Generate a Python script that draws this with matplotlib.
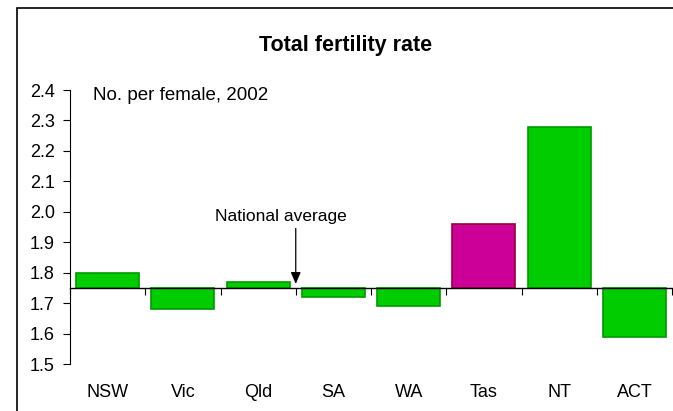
import matplotlib
matplotlib.use("Agg")
import matplotlib.pyplot as plt
from matplotlib.patches import Rectangle
from matplotlib.transforms import blended_transform_factory

plt.rcParams['font.family'] = ['Liberation Sans', 'DejaVu Sans']

categories = ["NSW", "Vic", "Qld", "SA", "WA", "Tas", "NT", "ACT"]
values = [1.80, 1.68, 1.77, 1.72, 1.69, 1.96, 2.28, 1.59]
national_average = 1.75
highlight = "Tas"
yticks = [1.5, 1.6, 1.7, 1.8, 1.9, 2.0, 2.1, 2.2, 2.3, 2.4]

W, H = 673, 411
fig = plt.figure(figsize=(W / 100, H / 100), dpi=100)

# outer frame (cut off on right and bottom like the reference)
fig.patches.append(Rectangle((17 / W, -0.05), 1.2, 1 - 8 / H + 0.05,
                             transform=fig.transFigure, fill=False,
                             edgecolor='black', linewidth=1.2))

ax = fig.add_axes([70 / W, 1 - 364 / H, (672 - 70) / W, (364 - 90) / H])
ax.set_facecolor('none')

x = list(range(len(categories)))
heights = [v - national_average for v in values]
colors = ['#CC0099' if c == highlight else '#00CC00' for c in categories]
edges = ['#990033' if c == highlight else '#009900' for c in categories]
ax.bar(x, heights, bottom=national_average, width=0.84, color=colors,
       edgecolor=edges, linewidth=1.2, zorder=2)

ax.set_xlim(-0.5, len(categories) - 0.5)
ax.set_ylim(1.5, 2.4)
ax.set_yticks(yticks)
ax.set_yticklabels([f"{t:.1f}" for t in yticks], fontsize=13)

for s in ['top', 'right']:
    ax.spines[s].set_visible(False)
ax.spines['left'].set_color('black')
ax.spines['left'].set_linewidth(0.8)
ax.spines['bottom'].set_position(('data', national_average))
ax.spines['bottom'].set_linewidth(1.0)
ax.spines['bottom'].set_zorder(3)

ax.set_xticks([i - 0.5 for i in range(len(categories) + 1)])
ax.set_xticklabels([])
ax.tick_params(axis='x', direction='out', length=5, width=0.8)
ax.tick_params(axis='y', direction='out', length=5, width=0.8, pad=6)

trans = blended_transform_factory(ax.transData, ax.transAxes)
for i, c in enumerate(categories):
    ax.text(i, -0.103, c, transform=trans, ha='center', va='center', fontsize=13)

fig.text(346 / W, 1 - 45 / H, "Total fertility rate", ha='center', va='center',
         fontsize=15.5, fontweight='bold')
ax.text(93 / W, 1 - 96 / H, "No. per female, 2002", transform=fig.transFigure,
        ha='left', va='center', fontsize=13.5)

ax.annotate("", xy=(2.5, 1.763), xytext=(2.5, 1.945),
            arrowprops=dict(arrowstyle='-|>,head_length=0.7,head_width=0.3',
                            color='black', lw=0.9, shrinkA=0, shrinkB=0))
ax.text(281 / W, 1 - 216 / H, "National average", transform=fig.transFigure,
        ha='center', va='center', fontsize=12.5)

fig.savefig("out.png", dpi=100)
